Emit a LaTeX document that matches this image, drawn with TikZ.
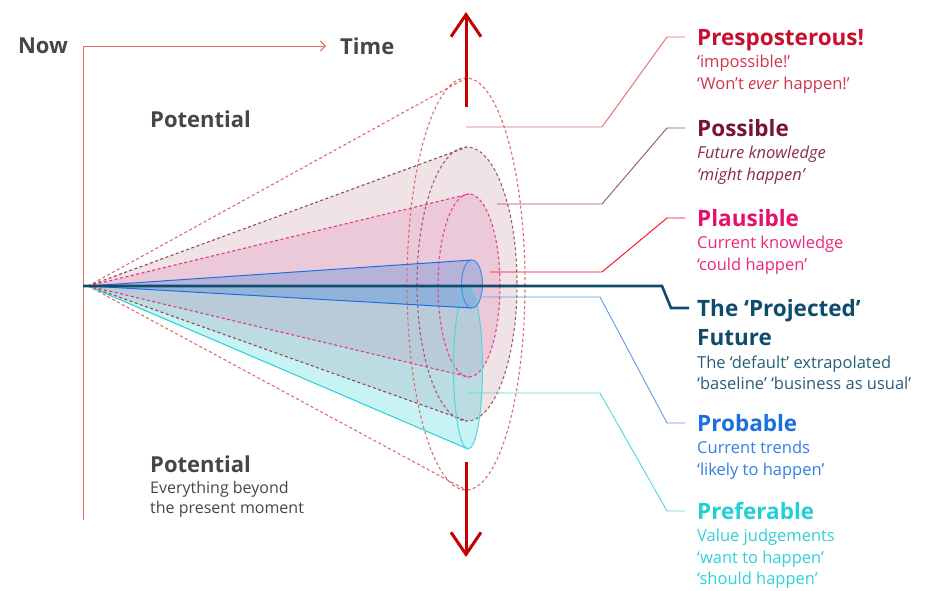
\documentclass[tikz,border=0pt]{standalone}
\usepackage{fontspec}
\setmainfont{Open Sans}
\usetikzlibrary{arrows.meta,positioning}

\definecolor{txtgray}{HTML}{464646}
\definecolor{axisred}{HTML}{E06A6A}
\definecolor{arrowred}{HTML}{C40000}
\definecolor{presred}{HTML}{C8102E}
\definecolor{possred}{HTML}{7A1530}
\definecolor{plauspink}{HTML}{E5106B}
\definecolor{plausfill}{HTML}{ECC9D9}
\definecolor{projteal}{HTML}{0F4C6C}
\definecolor{probblue}{HTML}{1C6FE0}
\definecolor{prefcyan}{HTML}{22CFD6}

\begin{document}
\begin{tikzpicture}[
  x=1pt, y=-1pt,
  head/.style={anchor=west, inner sep=0pt, text height=17pt, text depth=1pt, font=\fontsize{22.5}{30}\selectfont\bfseries},
  sub/.style={anchor=north west, align=left, inner sep=0pt, font=\fontsize{16.5}{21.5}\selectfont},
  lbl/.style={inner sep=0pt, text=txtgray, font=\fontsize{22}{26}\selectfont\bfseries},
  lead/.style={line width=0.9pt, shorten >=12pt},
  cone/.style={line width=1.1pt, dash pattern=on 3pt off 2.5pt},
  solidcone/.style={line width=1pt},
  bigarrow/.style={line width=3pt, draw=arrowred, -{Straight Barb[length=22pt,width=30pt]}},
  axis/.style={line width=1pt, draw=axisred, shorten >=14pt, -{Straight Barb[length=5pt,width=10pt]}}
]
\useasboundingbox (0,0) rectangle (925,590);

%======================
% COORDINATES
%======================

\coordinate (apex) at (88,286);
\coordinate (axbot) at (83,520);
\coordinate (axtop) at (83,46);
\coordinate (axmid) at (83,286);

% cone tops / bottoms (ellipse top and bottom points)
\coordinate (presT) at (466,78);
\coordinate (presB) at (466,490);
\coordinate (possT) at (467,147);
\coordinate (possB) at (467,421);
\coordinate (plauT) at (469,194);
\coordinate (plauB) at (469,377);
\coordinate (prefT) at (468,287);
\coordinate (prefB) at (468,449);
\coordinate (probT) at (472,260);
\coordinate (probB) at (472,308);

%======================
% CONE FILLS
%======================

\fill[color=possred!12] (apex) -- (possT) arc[start angle=-90, end angle=90, x radius=50, y radius=137] -- cycle;
\fill[color=plausfill] (apex) -- (plauT) arc[start angle=-90, end angle=90, x radius=31, y radius=91.5] -- cycle;
\fill[color=prefcyan, opacity=0.25] (apex) -- (prefT) arc[start angle=-90, end angle=90, x radius=14.5, y radius=81] -- cycle;
\fill[color=probblue, opacity=0.25] (apex) -- (probT) arc[start angle=-90, end angle=90, x radius=10.5, y radius=24] -- cycle;

%======================
% CONE OUTLINES
%======================

% preposterous
\draw[cone, axisred] (apex) -- (presT);
\draw[cone, axisred] (apex) -- (presB);
\draw[cone, axisred] (466,284) ellipse[x radius=59, y radius=206];

% possible
\draw[cone, possred!80] (apex) -- (possT);
\draw[cone, possred!80] (apex) -- (possB);
\draw[cone, possred!70] (467,284) ellipse[x radius=50, y radius=137];

% plausible
\draw[cone, plauspink!85] (apex) -- (plauT);
\draw[cone, plauspink!85] (apex) -- (plauB);
\draw[cone, plauspink!80] (469,285.5) ellipse[x radius=31, y radius=91.5];

% preferable
\draw[solidcone, prefcyan] (apex) -- (prefB);
\draw[solidcone, prefcyan!80] (468,368) ellipse[x radius=14.5, y radius=81];

% probable
\draw[solidcone, probblue] (apex) -- (probT);
\draw[solidcone, probblue] (apex) -- (probB);
\draw[solidcone, probblue!80] (472,284) ellipse[x radius=10.5, y radius=24];

%======================
% AXIS + ARROWS
%======================

\node[lbl] (now) at (43,46) {Now};
\node[lbl, anchor=west] (time) at (340,46) {Time};
\draw[axis] (axbot) -- (axtop) -- (time.west);

\node[lbl, anchor=west] (potA) at (150,119) {Potential};
\node[lbl, anchor=west] (potB) at (150,464) {Potential};
\node[sub, text=txtgray, font=\fontsize{16}{20}\selectfont, below=8pt of potB.south west, anchor=north west] (potBsub) {Everything beyond\\the present moment};

\coordinate (upS) at (466,107);
\coordinate (upE) at (466,12);
\coordinate (dnS) at (466,462);
\coordinate (dnE) at (466,557);
\draw[bigarrow] (upS) -- (upE);
\draw[bigarrow] (dnS) -- (dnE);

%======================
% LABELS
%======================

\node[head, text=presred] (pres) at (697,37) {Presposterous!};
\node[sub, text=presred!85, below=9pt of pres.south west, anchor=north west] (pressub) {‘impossible!’\\‘Won’t \textit{ever} happen!’};

\node[head, text=possred] (poss) at (697,128) {Possible};
\node[sub, text=possred!90, below=9pt of poss.south west, anchor=north west, font=\fontsize{16.5}{21.5}\selectfont\itshape] (posssub) {Future knowledge\\‘might happen’};

\node[head, text=plauspink] (plau) at (697,218) {Plausible};
\node[sub, text=plauspink!90, below=9pt of plau.south west, anchor=north west] (plausub) {Current knowledge\\‘could happen’};

\node[head, text=projteal] (proj) at (697,308) {The ‘Projected’};
\node[head, text=projteal, below=11pt of proj.south west, anchor=north west] (projb) {Future};
\node[sub, text=projteal!90, below=9pt of projb.south west, anchor=north west] (projsub) {The ‘default’ extrapolated\\‘baseline’ ‘business as usual’};

\node[head, text=probblue] (prob) at (697,423) {Probable};
\node[sub, text=probblue!90, below=9pt of prob.south west, anchor=north west] (probsub) {Current trends\\‘likely to happen’};

\node[head, text=prefcyan] (pref) at (697,511) {Preferable};
\node[sub, text=prefcyan!95, below=9pt of pref.south west, anchor=north west] (prefsub) {Value judgements\\‘want to happen’\\‘should happen’};

%======================
% LEADER LINES
%======================

\draw[lead, axisred] (466,127) -- (602,127) -- (667,37) -- (pres.west);
\draw[lead, possred!75] (497,204) -- (602,204) -- (667,128) -- (poss.west);
\draw[lead, red!70!plauspink] (490,272) -- (602,272) -- (667,218) -- (plau.west);
\draw[lead, probblue!70] (482,297) -- (600,297) -- (667,423) -- (prob.west);
\draw[lead, prefcyan!80] (468,393) -- (600,393) -- (667,511) -- (pref.west);

% projected future line
\draw[line width=2.6pt, projteal, shorten >=8pt] (axmid) -- (662,286) -- (671,308) -- (proj.west);

\end{tikzpicture}
\end{document}
